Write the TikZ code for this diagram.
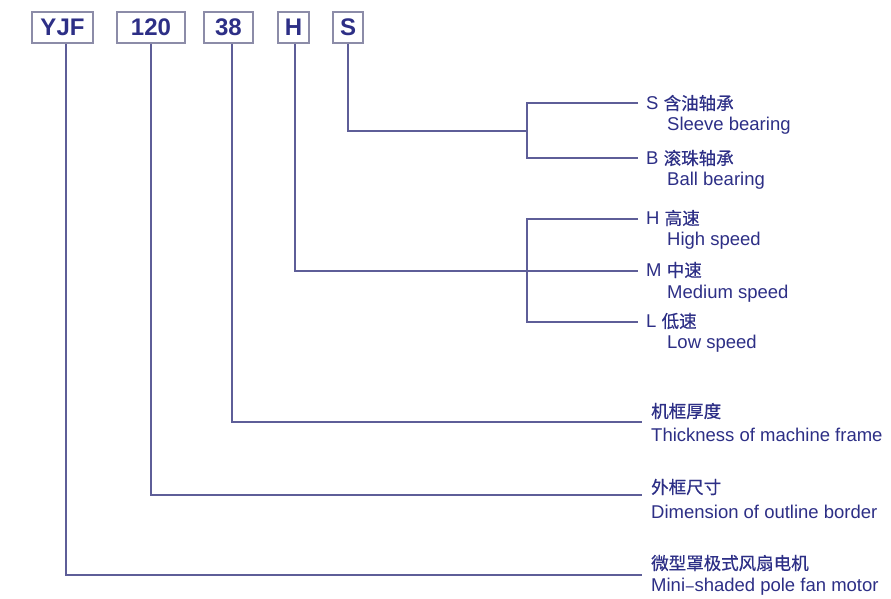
\documentclass[tikz,border=0pt]{standalone}
\usepackage{fontspec}
\setmainfont{Liberation Sans}
\newfontfamily\cjk[FakeBold=0.4]{Noto Sans CJK SC}
\definecolor{navy}{HTML}{2D2F86}
\definecolor{wirecol}{HTML}{5E5E98}
\definecolor{boxcol}{HTML}{8C8CA8}
\newcommand{\zh}[1]{{\cjk\fontsize{17.5}{20}\selectfont #1}}
\begin{document}
\begin{tikzpicture}[x=1pt,y=-1pt,
  codebox/.style={draw=boxcol, line width=1.3pt, fill=white, text=navy,
    font=\fontsize{24}{26}\selectfont\bfseries, minimum height=31pt, inner sep=0pt},
  lbl/.style={anchor=west, inner sep=0pt, text=navy, font=\fontsize{18.5}{20}\selectfont},
  wire/.style={draw=wirecol, line width=1.4pt}]
\useasboundingbox[fill=white] (0,0) rectangle (891,598);

% code boxes
\node[codebox, minimum width=61pt] (bY) at (62.5,27.5) {YJF};
\node[codebox, minimum width=68pt] (b120) at (151,27.5) {120};
\node[codebox, minimum width=49pt] (b38) at (228.5,27.5) {38};
\node[codebox, minimum width=31pt] (bH) at (293.5,27.5) {H};
\node[codebox, minimum width=30pt] (bS) at (348,27.5) {S};

% bearing labels
\node[lbl] (lS) at (646,103) {S \zh{含油轴承}};
\node[lbl] (eS) at (667,126) {Sleeve bearing};
\node[lbl] (lB) at (646,158) {B \zh{滚珠轴承}};
\node[lbl] (eB) at (667,181) {Ball bearing};

% speed labels
\node[lbl] (lH) at (646,218) {H \zh{高速}};
\node[lbl] (eH) at (667,241) {High speed};
\node[lbl] (lM) at (646,270) {M \zh{中速}};
\node[lbl] (eM) at (667,294) {Medium speed};
\node[lbl] (lL) at (646,321) {L \zh{低速}};
\node[lbl] (eL) at (667,344) {Low speed};

% frame, outline, motor labels
\node[lbl] (l38) at (651,411) {\zh{机框厚度}};
\node[lbl] (e38) at (651,435) {Thickness of machine frame};
\node[lbl] (l120) at (651,487) {\zh{外框尺寸}};
\node[lbl] (e120) at (651,512) {Dimension of outline border};
\node[lbl] (lY) at (651,563) {\zh{微型罩极式风扇电机}};
\node[lbl] (eY) at (651,587) {Mini\zh{–}shaded pole fan motor};

% junction coordinates
\coordinate (jS) at (527,131);
\coordinate (tS) at (638,103);
\coordinate (tB) at (638,158);
\coordinate (tH) at (638,219);
\coordinate (tM) at (638,271);
\coordinate (tL) at (638,322);
\coordinate (kH) at (527,219);
\coordinate (kL) at (527,322);
\coordinate (t38) at (642,422);
\coordinate (t120) at (642,495);
\coordinate (tY) at (642,575);

% connectors
\draw[wire] (bS.south) |- (jS);
\draw[wire] (tS) -| (jS) |- (tB);
\draw[wire] ([xshift=1.5pt]bH.south) |- (tM);
\draw[wire] (tH) -- (kH) -- (kL) -- (tL);
\draw[wire] ([xshift=3.5pt]b38.south) |- (t38);
\draw[wire] (b120.south) |- (t120);
\draw[wire] ([xshift=3.5pt]bY.south) |- (tY);
\end{tikzpicture}
\end{document}
